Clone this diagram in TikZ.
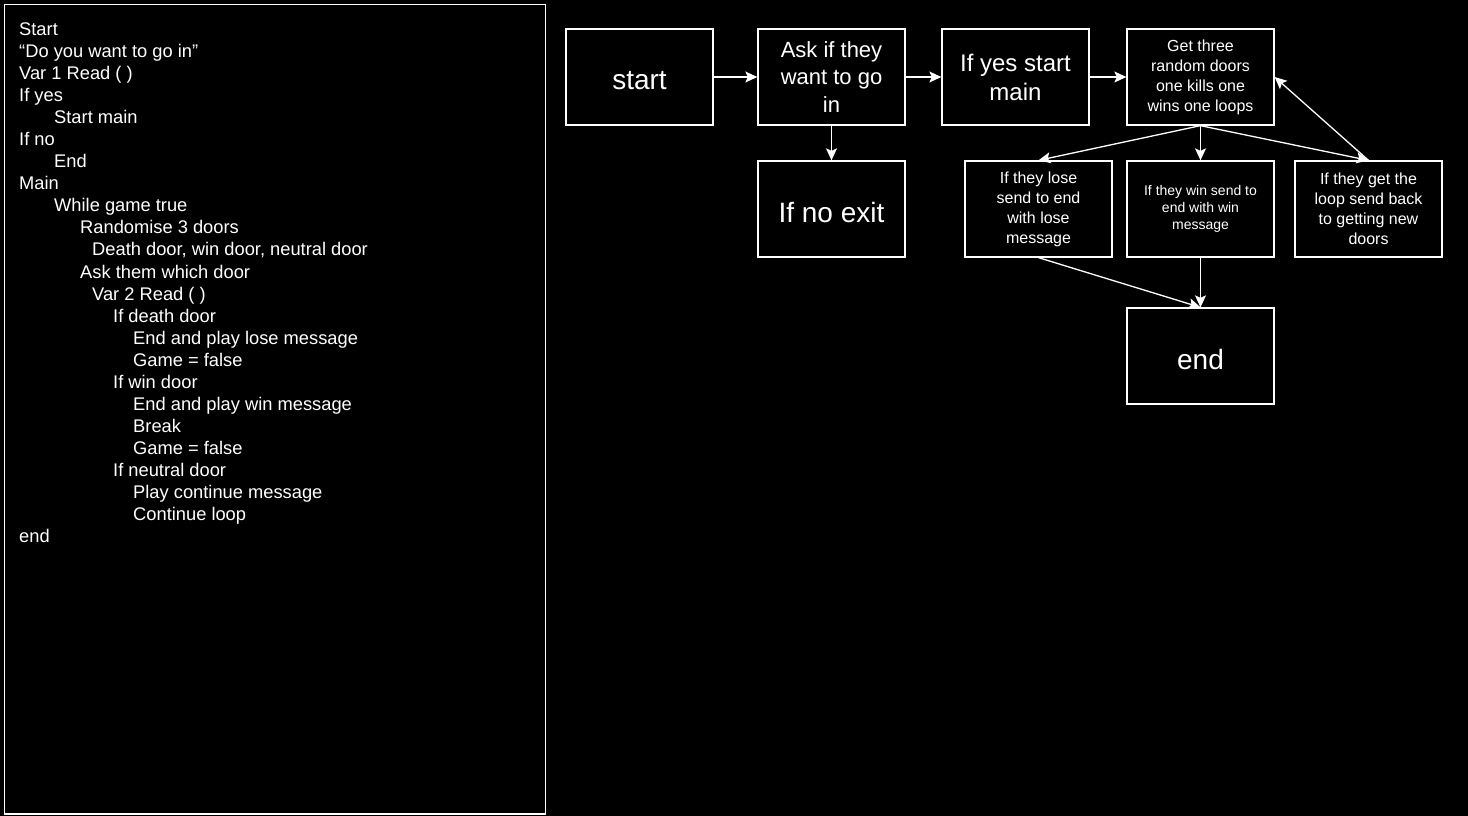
\documentclass[tikz,border=0pt]{standalone}
\usepackage{fontspec}
\setmainfont{Liberation Sans}
\usetikzlibrary{arrows.meta}
\begin{document}
\begin{tikzpicture}[x=1pt,y=-1pt,
  codeline/.style={anchor=base west, inner sep=0pt, text=white, font=\fontsize{18.3}{22}\selectfont},
  box/.style={draw=white, line width=1.3pt, fill=black, text=white, minimum width=147pt, minimum height=96pt, align=center, inner sep=2pt},
  bigtext/.style={font=\fontsize{28}{33}\selectfont, text height=26pt, text depth=0pt},
  arr/.style={draw=white, line width=1.3pt, -{Stealth[length=12pt,width=11pt,inset=2.5pt]}}
]
\fill[black] (0,0) rectangle (1468,816);
\useasboundingbox (0,0) rectangle (1468,816);

% left panel
\node[draw=white, line width=1.5pt, minimum width=541pt, minimum height=809pt, anchor=north west, inner sep=0pt] (panel) at (3.5,4) {};

\node[codeline] (l1) at (19,35.4) {Start};
\node[codeline] (l2) at (19,57.5) {“Do you want to go in”};
\node[codeline] (l3) at (19,79.5) {Var 1 Read ( )};
\node[codeline] (l4) at (19,101.6) {If yes};
\node[codeline] (l5) at (54,123.6) {Start main};
\node[codeline] (l6) at (19,145.7) {If no};
\node[codeline] (l7) at (54,167.7) {End};
\node[codeline] (l8) at (19,189.8) {Main};
\node[codeline] (l9) at (54,211.8) {While game true};
\node[codeline] (l10) at (80,233.9) {Randomise 3 doors};
\node[codeline] (l11) at (92,255.9) {Death door, win door, neutral door};
\node[codeline] (l12) at (80,278.0) {Ask them which door};
\node[codeline] (l13) at (92,300.0) {Var 2 Read ( )};
\node[codeline] (l14) at (113,322.1) {If death door};
\node[codeline] (l15) at (133,344.1) {End and play lose message};
\node[codeline] (l16) at (133,366.2) {Game = false};
\node[codeline] (l17) at (113,388.2) {If win door};
\node[codeline] (l18) at (133,410.3) {End and play win message};
\node[codeline] (l19) at (133,432.3) {Break};
\node[codeline] (l20) at (133,454.4) {Game = false};
\node[codeline] (l21) at (113,476.4) {If neutral door};
\node[codeline] (l22) at (133,498.5) {Play continue message};
\node[codeline] (l23) at (133,520.5) {Continue loop};
\node[codeline] (l24) at (19,542.6) {end};

% flowchart boxes
\node[box, bigtext] (start) at (639.5,77) {start};
\node[box, font=\fontsize{22}{27.5}\selectfont] (ask) at (831.5,77) {Ask if they\\want to go\\in};
\node[box, font=\fontsize{24}{29}\selectfont] (yes) at (1015.5,77) {If yes start\\main};
\node[box, font=\fontsize{16}{20}\selectfont] (get) at (1200.5,77) {Get three\\random doors\\one kills one\\wins one loops};
\node[box, bigtext] (noexit) at (831.5,209) {If no exit};
\node[box, font=\fontsize{16}{20}\selectfont] (lose) at (1038.5,209) {If they lose\\send to end\\with lose\\message};
\node[box, font=\fontsize{14}{17}\selectfont] (win) at (1200.5,209) {If they win send to\\end with win\\message};
\node[box, font=\fontsize{16}{20}\selectfont] (loop) at (1368.5,209) {If they get the\\loop send back\\to getting new\\doors};
\node[box, bigtext] (end) at (1200.5,356) {end};

% connectors
\draw[arr] (start.east) -- (ask.west);
\draw[arr] (ask.east) -- (yes.west);
\draw[arr] (yes.east) -- (get.west);
\draw[arr] (ask.south) -- (noexit.north);
\draw[arr] (get.south) -- (lose.north);
\draw[arr] (get.south) -- (win.north);
\draw[arr] (get.south) -- (loop.north);
\draw[arr] (loop.north) -- (get.east);
\draw[arr] (lose.south) -- (end.north);
\draw[arr] (win.south) -- (end.north);
\end{tikzpicture}
\end{document}
